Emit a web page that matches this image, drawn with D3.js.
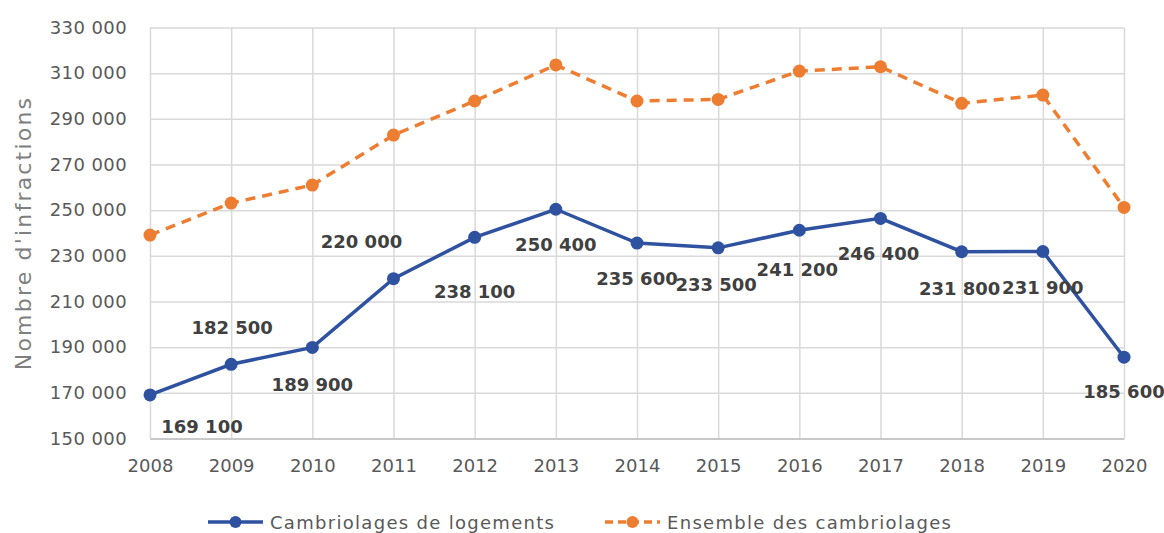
<!DOCTYPE html>
<html>
<head>
<meta charset="utf-8">
<script src="https://cdn.jsdelivr.net/npm/d3@7"></script>
<style>
  html, body { margin: 0; padding: 0; background: #fff; }
  svg { display: block; }
</style>
</head>
<body>
<div id="chart"></div>
<script>
// Cambriolages 2008-2020 : deux séries en lignes, axe Y en milliers.

const years = ["2008", "2009", "2010", "2011", "2012", "2013", "2014", "2015", "2016", "2017", "2018", "2019", "2020"]
const logements = [169100, 182500, 189900, 220000, 238100, 250400, 235600, 233500, 241200, 246400, 231800, 231900, 185600]
const ensemble = [239100, 253100, 261000, 282900, 297800, 313600, 297800, 298500, 310900, 312800, 296800, 300400, 251200]
const yTicks = [150000, 170000, 190000, 210000, 230000, 250000, 270000, 290000, 310000, 330000]
const seriesNames = ["Cambriolages de logements", "Ensemble des cambriolages"]

// décalage des étiquettes (px) par rapport au point, comme placées à la main dans le tableur
const labelOffset = [[52, 32], [1, -37], [0, 37], [-32, -37], [0, 54], [0, 35], [0, 35], [-2, 37], [-2, 39], [-2, 35], [-2, 37], [0, 36], [0, 34]]

const W = 1164, H = 533
const margin = { top: 27.5, right: 40, bottom: 94.5, left: 150 }
const innerW = W - margin.left - margin.right
const innerH = H - margin.top - margin.bottom

const colors = { blue: "#2F52A0", orange: "#ED7D31", grid: "#D9D9D9", tick: "#595959", label: "#404040" }
const font = "DejaVu Sans, sans-serif"

const svg = d3.select("#chart").append("svg")
  .attr("width", W).attr("height", H)

const g = svg.append("g").attr("transform", `translate(${margin.left},${margin.top})`)

const x = d3.scalePoint().domain(years).range([0, innerW])
const y = d3.scaleLinear().domain([150000, 330000]).range([innerH, 0])

const fmt = (v) => d3.format(",d")(v).replace(/,/g, " ")

// grille horizontale
g.append("g")
  .call(d3.axisLeft(y).tickValues(yTicks).tickSize(-innerW).tickFormat(""))
  .call((s) => s.select(".domain").remove())
  .call((s) => s.selectAll("line").attr("stroke", colors.grid).attr("stroke-width", 1.5))

// grille verticale
g.append("g")
  .call(d3.axisBottom(x).tickSize(innerH).tickFormat(""))
  .call((s) => s.select(".domain").remove())
  .call((s) => s.selectAll("line").attr("stroke", colors.grid).attr("stroke-width", 1.5))

// axe Y (labels)
g.append("g")
  .call(d3.axisLeft(y).tickValues(yTicks).tickSize(0).tickPadding(23).tickFormat(fmt))
  .call((s) => s.select(".domain").remove())
  .call((s) => s.selectAll("text")
    .attr("fill", colors.tick).attr("font-family", font).attr("font-size", 18)
    .attr("letter-spacing", 0.4))

// axe X
g.append("g")
  .attr("transform", `translate(0,${innerH})`)
  .call(d3.axisBottom(x).tickSize(0).tickPadding(21))
  .call((s) => s.select(".domain").attr("stroke", "#BFBFBF").attr("stroke-width", 1.5))
  .call((s) => s.selectAll("text")
    .attr("fill", colors.tick).attr("font-family", font).attr("font-size", 18))

// titre axe Y
svg.append("text")
  .attr("transform", `translate(31,${margin.top + innerH / 2}) rotate(-90)`)
  .attr("text-anchor", "middle")
  .attr("fill", "#7F7F7F")
  .attr("font-family", font).attr("font-size", 22)
  .attr("letter-spacing", 2.2)
  .text("Nombre d'infractions")

const line = d3.line()
  .x((d, i) => x(years[i]))
  .y((d) => y(d))

// Série orange (pointillés)
g.append("path")
  .datum(ensemble)
  .attr("d", line)
  .attr("fill", "none")
  .attr("stroke", colors.orange).attr("stroke-width", 3.5)
  .attr("stroke-dasharray", "10,7")

g.selectAll("circle.ens")
  .data(ensemble)
  .join("circle")
  .attr("class", "ens")
  .attr("cx", (d, i) => x(years[i])).attr("cy", (d) => y(d))
  .attr("r", 6.5)
  .attr("fill", colors.orange)

// Série bleue
g.append("path")
  .datum(logements)
  .attr("d", line)
  .attr("fill", "none")
  .attr("stroke", colors.blue).attr("stroke-width", 3.5)

g.selectAll("circle.log")
  .data(logements)
  .join("circle")
  .attr("class", "log")
  .attr("cx", (d, i) => x(years[i])).attr("cy", (d) => y(d))
  .attr("r", 6.5)
  .attr("fill", colors.blue)

// étiquettes de données
g.selectAll("text.val")
  .data(logements)
  .join("text")
  .attr("class", "val")
  .attr("x", (d, i) => x(years[i]) + labelOffset[i][0])
  .attr("y", (d, i) => y(d) + labelOffset[i][1])
  .attr("text-anchor", "middle")
  .attr("dominant-baseline", "central")
  .attr("fill", colors.label)
  .attr("font-family", font).attr("font-size", 18).attr("font-weight", "bold")
  .text((d) => fmt(d))

// légende
const legend = svg.append("g").attr("transform", `translate(0,522)`)
const legendItems = [
  { name: seriesNames[0], color: colors.blue, dash: null, x0: 208 },
  { name: seriesNames[1], color: colors.orange, dash: "8,5", x0: 605 },
]
legendItems.forEach((it) => {
  legend.append("line")
    .attr("x1", it.x0).attr("x2", it.x0 + 55)
    .attr("y1", 0).attr("y2", 0)
    .attr("stroke", it.color).attr("stroke-width", 3.5)
    .attr("stroke-dasharray", it.dash)
  legend.append("circle")
    .attr("cx", it.x0 + 27.5).attr("cy", 0).attr("r", 6)
    .attr("fill", it.color)
  legend.append("text")
    .attr("x", it.x0 + 62).attr("y", 0)
    .attr("dominant-baseline", "central")
    .attr("fill", colors.tick)
    .attr("font-family", font).attr("font-size", 18)
    .attr("letter-spacing", 1.3)
    .text(it.name)
})
</script>
</body>
</html>
